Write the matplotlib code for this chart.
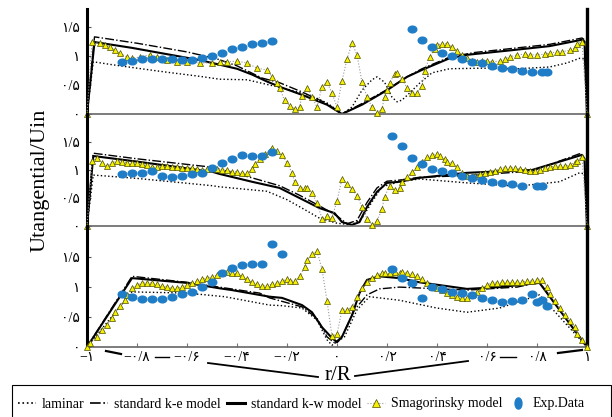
import numpy as np
import matplotlib
matplotlib.use("Agg")
import matplotlib.pyplot as plt
from matplotlib.lines import Line2D
from matplotlib.patches import Rectangle

plt.rcParams['font.family'] = ['Liberation Serif', 'DejaVu Sans']

# ---------------- data ----------------
x_ticks = [-1, -0.8, -0.6, -0.4, -0.2, 0, 0.2, 0.4, 0.6, 0.8, 1]
x_labels = ['−۱', '−۰/۸', '−۰/۶', '−۰/۴', '−۰/۲', '۰', '۰/۲', '۰/۴', '۰/۶', '۰/۸', '۱']
y_ticks = [0, 0.5, 1, 1.5]
y_labels = ['۰', '۰/۵', '۱', '۱/۵']
legend_labels = ['laminar', 'standard k-e model', 'standard k-w model', 'Smagorinsky model', 'Exp.Data']

# panel 1 (top)
lam1_r = [-1, -0.975, -0.9, -0.8, -0.68, -0.55, -0.47, -0.36, -0.27, -0.2, -0.14, -0.08, -0.04, 0.0, 0.02,
          0.06, 0.1, 0.14, 0.16, 0.19, 0.22, 0.24, 0.26, 0.29, 0.33, 0.38, 0.45, 0.58, 0.72, 0.85, 0.92, 0.97, 0.99, 1]
lam1_u = [0, 0.9, 0.85, 0.79, 0.72, 0.65, 0.6, 0.59, 0.5, 0.43, 0.36, 0.27, 0.19, 0.07, 0.0,
          0.12, 0.41, 0.59, 0.64, 0.55, 0.29, 0.21, 0.24, 0.36, 0.53, 0.71, 0.78, 0.79, 0.78, 0.81, 0.88, 0.96, 0.95, 0]
ke1_r = [-1, -0.97, -0.8, -0.6, -0.48, -0.4, -0.3, -0.23, -0.14, -0.04, 0.02, 0.10, 0.20, 0.28, 0.34, 0.45, 0.55,
         0.7, 0.85, 0.98, 0.99, 1]
ke1_u = [0, 1.33, 1.22, 1.07, 0.95, 0.83, 0.62, 0.54, 0.38, 0.18, 0.0, 0.18, 0.42, 0.64, 0.78, 0.98, 1.06,
         1.13, 1.2, 1.31, 1.28, 0]
kw1_r = [-1, -0.97, -0.82, -0.55, -0.47, -0.40, -0.34, -0.28, -0.23, -0.14, -0.04, 0.02, 0.10, 0.20, 0.28, 0.34,
         0.45, 0.52, 0.7, 0.85, 0.98, 0.99, 1]
kw1_u = [0, 1.24, 1.14, 0.93, 0.85, 0.78, 0.68, 0.56, 0.47, 0.33, 0.16, 0.0, 0.16, 0.41, 0.64, 0.76,
         0.96, 1.02, 1.10, 1.17, 1.28, 1.25, 0]
sm1_r = [-1, -0.98, -0.95, -0.93, -0.91, -0.89, -0.87, -0.84, -0.82, -0.79, -0.75, -0.72, -0.68, -0.64, -0.6,
         -0.55, -0.5, -0.47, -0.44, -0.4, -0.36, -0.32, -0.28, -0.26, -0.24, -0.23, -0.21, -0.19, -0.17, -0.15,
         -0.14, -0.12, -0.10, -0.08, -0.06, -0.04, -0.02, 0.0, 0.02, 0.04, 0.06, 0.08, 0.10, 0.12, 0.14, 0.16,
         0.18, 0.19, 0.2, 0.21, 0.23, 0.24, 0.26, 0.28, 0.30, 0.32, 0.34, 0.35, 0.37, 0.39, 0.40, 0.42, 0.44,
         0.46, 0.48, 0.5, 0.52, 0.54, 0.56, 0.58, 0.6, 0.62, 0.65, 0.67, 0.69, 0.72, 0.75, 0.77, 0.8, 0.83,
         0.85, 0.88, 0.9, 0.93, 0.95, 0.96, 0.98, 1.0]
sm1_u = [0, 1.24, 1.22, 1.19, 1.16, 1.1, 1.05, 0.98, 0.96, 0.98, 1.02, 0.98, 0.93, 0.9, 0.9,
         0.88, 0.88, 0.89, 0.9, 0.91, 0.88, 0.79, 0.76, 0.64, 0.53, 0.45, 0.24, 0.14, 0.09, 0.12,
         0.31, 0.45, 0.29, 0.12, 0.47, 0.55, 0.36, 0.12, 0.57, 0.95, 1.22, 1.02, 0.55, 0.29, 0.12, 0.02,
         0.09, 0.29, 0.41, 0.53, 0.69, 0.71, 0.6, 0.45, 0.36, 0.36, 0.48, 0.74, 0.98, 1.12, 1.19, 1.21, 1.21,
         1.16, 1.09, 1.02, 0.97, 0.92, 0.9, 0.91, 0.91, 0.9, 0.91, 0.95, 0.98, 1.02, 1.03, 1.02, 1.02, 1.03,
         1.05, 1.07, 1.07, 1.1, 1.14, 1.21, 1.24, 0]
ex1_r = [-0.86, -0.82, -0.78, -0.74, -0.7, -0.66, -0.62, -0.58, -0.54, -0.5, -0.46, -0.42, -0.38, -0.34, -0.3, -0.26,
         0.30, 0.34, 0.38, 0.42, 0.46, 0.5, 0.54, 0.58, 0.62, 0.66, 0.70, 0.74, 0.78, 0.82, 0.84]
ex1_u = [0.9, 0.91, 0.95, 0.95, 0.95, 0.95, 0.93, 0.93, 0.97, 1.0, 1.05, 1.12, 1.16, 1.21, 1.22, 1.26,
         1.46, 1.28, 1.16, 1.05, 1.0, 0.95, 0.9, 0.88, 0.83, 0.79, 0.78, 0.74, 0.72, 0.72, 0.72]

# panel 2 (middle)
lam2_r = [-1, -0.975, -0.8, -0.5, -0.47, -0.28, -0.2, -0.14, -0.07, 0.0, 0.06, 0.10, 0.14, 0.18, 0.25, 0.33,
          0.52, 0.72, 0.89, 0.97, 0.99, 1]
lam2_u = [0, 0.91, 0.85, 0.72, 0.7, 0.62, 0.47, 0.32, 0.14, 0.05, 0.02, 0.14, 0.43, 0.7, 0.79, 0.84,
          0.77, 0.71, 0.79, 0.95, 0.93, 0]
ke2_r = [-1, -0.975, -0.8, -0.5, -0.34, -0.23, -0.15, -0.07, 0.0, 0.04, 0.08, 0.12, 0.16, 0.2, 0.25, 0.33,
         0.52, 0.78, 0.97, 0.99, 1]
ke2_u = [0, 1.3, 1.2, 1.05, 0.86, 0.72, 0.55, 0.36, 0.18, 0.04, 0.1, 0.42, 0.68, 0.8, 0.82, 0.87,
         0.9, 0.98, 1.29, 1.2, 0]
kw2_r = [-1, -0.975, -0.8, -0.5, -0.47, -0.34, -0.23, -0.15, -0.07, -0.01, 0.02, 0.06, 0.09, 0.12, 0.16, 0.2,
         0.25, 0.33, 0.52, 0.78, 0.98, 0.99, 1]
kw2_u = [0, 1.25, 1.15, 0.97, 0.93, 0.79, 0.68, 0.5, 0.32, 0.23, 0.07, 0.02, 0.07, 0.34, 0.61, 0.77,
         0.79, 0.86, 0.95, 1.0, 1.27, 1.2, 0]
sm2_r = [-1, -0.98, -0.96, -0.94, -0.92, -0.9, -0.88, -0.86, -0.84, -0.82, -0.8, -0.78, -0.76, -0.74, -0.72,
         -0.7, -0.68, -0.66, -0.64, -0.62, -0.6, -0.58, -0.56, -0.54, -0.52, -0.5, -0.48, -0.46, -0.44, -0.42,
         -0.40, -0.38, -0.36, -0.34, -0.33, -0.31, -0.29, -0.27, -0.26, -0.24, -0.22, -0.2, -0.18, -0.17,
         -0.15, -0.13, -0.12, -0.10, -0.08, -0.06, -0.04, -0.02, 0.0, 0.02, 0.04, 0.06, 0.08, 0.10, 0.12,
         0.14, 0.16, 0.18, 0.19, 0.21, 0.23, 0.25, 0.26, 0.28, 0.30, 0.32, 0.34, 0.36, 0.38, 0.40, 0.41,
         0.43, 0.44, 0.46, 0.48, 0.5, 0.52, 0.54, 0.55, 0.57, 0.59, 0.61, 0.63, 0.65, 0.67, 0.69, 0.71,
         0.73, 0.75, 0.77, 0.79, 0.81, 0.83, 0.85, 0.87, 0.89, 0.91, 0.93, 0.95, 0.96, 0.98, 1.0]
sm2_u = [0, 1.16, 1.21, 1.13, 1.07, 1.13, 1.16, 1.14, 1.13, 1.13, 1.13, 1.1, 1.09, 1.05, 1.05,
         1.07, 1.07, 1.05, 1.05, 1.04, 1.04, 1.03, 1.02, 1.0, 1.02, 1.03, 1.02, 1.0, 1.0, 0.97,
         0.97, 0.94, 0.94, 1.02, 1.1, 1.2, 1.28, 1.34, 1.39, 1.34, 1.27, 1.13, 0.95, 0.79,
         0.68, 0.68, 0.68, 0.59, 0.41, 0.13, 0.17, 0.15, 0.45, 0.84, 0.75, 0.66, 0.54, 0.34, 0.13,
         0.02, 0.09, 0.3, 0.52, 0.71, 0.64, 0.68, 0.79, 0.88, 0.96, 1.05, 1.14, 1.23, 1.27, 1.29, 1.25,
         1.2, 1.14, 1.13, 1.05, 0.95, 0.89, 0.88, 0.89, 0.93, 0.95, 0.96, 0.98, 1.02, 1.04, 1.04, 1.04,
         1.02, 1.0, 0.98, 0.98, 1.0, 1.04, 1.05, 1.07, 1.07, 1.07, 1.09, 1.13, 1.16, 1.23, 0]
ex2_r = [-0.86, -0.82, -0.78, -0.74, -0.7, -0.66, -0.62, -0.58, -0.54, -0.5, -0.46, -0.42, -0.38, -0.34, -0.3, -0.26,
         0.22, 0.26, 0.30, 0.34, 0.38, 0.42, 0.46, 0.5, 0.54, 0.58, 0.62, 0.66, 0.70, 0.74, 0.8, 0.82]
ex2_u = [0.93, 0.95, 0.95, 0.98, 0.89, 0.88, 0.89, 0.93, 0.95, 1.04, 1.13, 1.2, 1.27, 1.25, 1.25, 1.32,
         1.61, 1.43, 1.21, 1.11, 1.02, 0.98, 0.95, 0.89, 0.86, 0.82, 0.79, 0.77, 0.75, 0.71, 0.71, 0.71]

# panel 3 (bottom)
lam3_r = [-1, -0.82, -0.6, -0.45, -0.27, -0.22, -0.14, -0.08, -0.04, -0.02, 0.03, 0.08, 0.13, 0.25, 0.4,
          0.52, 0.65, 0.81, 1]
lam3_u = [0, 0.92, 0.9, 0.84, 0.7, 0.69, 0.65, 0.45, 0.12, 0.03, 0.17, 0.62, 0.84, 0.78, 0.65,
          0.58, 0.65, 0.87, 0]
ke3_r = [-1, -0.82, -0.6, -0.31, -0.27, -0.14, -0.08, -0.04, -0.01, 0.02, 0.07, 0.12, 0.17, 0.25, 0.52,
         0.72, 0.81, 1]
ke3_u = [0, 1.18, 1.08, 0.9, 0.82, 0.67, 0.48, 0.17, 0.07, 0.17, 0.62, 0.87, 0.97, 1.0, 0.95,
         1.0, 1.08, 0]
kw3_r = [-1, -0.82, -0.6, -0.47, -0.42, -0.27, -0.22, -0.14, -0.10, -0.06, -0.02, 0.0, 0.02, 0.06, 0.09,
         0.12, 0.17, 0.25, 0.33, 0.52, 0.65, 0.81, 1]
kw3_u = [0, 1.15, 1.07, 0.98, 0.95, 0.84, 0.82, 0.7, 0.58, 0.33, 0.15, 0.08, 0.17, 0.53, 0.9,
         1.12, 1.18, 1.15, 1.08, 0.97, 1.0, 1.07, 0]
sm3_r = [-1, -0.99, -0.96, -0.94, -0.92, -0.9, -0.89, -0.87, -0.85, -0.84, -0.82, -0.8, -0.78, -0.76, -0.74,
         -0.72, -0.7, -0.68, -0.66, -0.64, -0.62, -0.6, -0.58, -0.56, -0.54, -0.52, -0.5, -0.48, -0.46,
         -0.44, -0.42, -0.40, -0.38, -0.36, -0.34, -0.32, -0.3, -0.28, -0.26, -0.24, -0.22, -0.2, -0.19,
         -0.17, -0.15, -0.13, -0.12, -0.10, -0.08, -0.06, -0.04, -0.02, 0.0, 0.02, 0.04, 0.06, 0.08, 0.1,
         0.12, 0.14, 0.16, 0.18, 0.19, 0.21, 0.23, 0.25, 0.26, 0.28, 0.30, 0.32, 0.34, 0.36, 0.38, 0.40,
         0.42, 0.44, 0.46, 0.48, 0.5, 0.52, 0.54, 0.56, 0.58, 0.6, 0.62, 0.64, 0.66, 0.68, 0.7, 0.72, 0.74,
         0.76, 0.78, 0.8, 0.82, 0.84, 0.85, 0.87, 0.89, 0.91, 0.93, 0.95, 0.96, 0.98, 1.0]
sm3_u = [0, 0.07, 0.17, 0.28, 0.37, 0.48, 0.58, 0.68, 0.78, 0.87, 0.98, 1.03, 1.07, 1.07, 1.07,
         1.05, 1.02, 1.0, 0.98, 0.98, 1.0, 1.03, 1.07, 1.1, 1.13, 1.15, 1.17, 1.2, 1.23,
         1.25, 1.23, 1.23, 1.18, 1.13, 1.08, 1.05, 1.02, 1.02, 1.05, 1.07, 1.1, 1.13, 1.1,
         1.1, 1.18, 1.33, 1.45, 1.55, 1.6, 1.3, 0.77, 0.18, 0.22, 0.62, 0.62, 0.67, 0.84, 0.98,
         1.08, 1.15, 1.2, 1.23, 1.23, 1.23, 1.25, 1.23, 1.25, 1.23, 1.22, 1.18, 1.13, 1.07, 1.0, 0.98,
         0.95, 0.9, 0.87, 0.84, 0.82, 0.82, 0.87, 0.92, 0.98, 1.03, 1.07, 1.07, 1.08, 1.08, 1.08, 1.08, 1.08,
         1.1, 1.1, 1.12, 1.12, 1.0, 0.88, 0.77, 0.65, 0.53, 0.43, 0.33, 0.22, 0.12, 0.0]
ex3_r = [-0.86, -0.82, -0.78, -0.74, -0.7, -0.66, -0.62, -0.58, -0.54, -0.5, -0.46, -0.42, -0.38, -0.34, -0.3,
         -0.26, -0.22, 0.22, 0.26, 0.30, 0.34, 0.38, 0.42, 0.46, 0.5, 0.54, 0.58, 0.62, 0.66, 0.7, 0.74, 0.78,
         0.8, 0.82, 0.84]
ex3_u = [0.88, 0.83, 0.8, 0.8, 0.8, 0.83, 0.88, 0.92, 1.0, 1.08, 1.23, 1.32, 1.37, 1.38, 1.38,
         1.72, 1.55, 1.3, 1.15, 1.07, 0.82, 1.0, 0.97, 0.92, 0.9, 0.87, 0.82, 0.78, 0.75, 0.77, 0.78, 0.88,
         0.75, 0.78, 0.68]

panels = [
    (lam1_r, lam1_u, ke1_r, ke1_u, kw1_r, kw1_u, sm1_r, sm1_u, ex1_r, ex1_u),
    (lam2_r, lam2_u, ke2_r, ke2_u, kw2_r, kw2_u, sm2_r, sm2_u, ex2_r, ex2_u),
    (lam3_r, lam3_u, ke3_r, ke3_u, kw3_r, kw3_u, sm3_r, sm3_u, ex3_r, ex3_u),
]

# ---------------- style ----------------
W, H = 612, 417
BLUE = '#1f7cc6'
YELLOW = '#f4f000'
t = np.linspace(0, 2 * np.pi, 40)
ellipse_h = np.column_stack([np.cos(t), 0.78 * np.sin(t)])
ellipse_v = np.column_stack([0.62 * np.cos(t), np.sin(t)])

# axes boxes in pixels: (top, bottom), y limit top
boxes = [(9, 114, 1.81), (114, 226, 2.0), (226, 347, 2.02)]
left_px, right_px = 87, 587

fig = plt.figure(figsize=(W / 100, H / 100), dpi=100)
for i, (top, bot, ytop) in enumerate(boxes):
    ax = fig.add_axes([left_px / W, 1 - bot / H, (right_px - left_px) / W, (bot - top) / H])
    lam_r, lam_u, ke_r, ke_u, kw_r, kw_u, sm_r, sm_u, ex_r, ex_u = panels[i]
    ax.plot(lam_r, lam_u, ':', color='black', lw=1.0)
    ax.plot(ke_r, ke_u, '-.', color='black', lw=1.0)
    ax.plot(kw_r, kw_u, '-', color='black', lw=1.5)
    ax.plot(sm_r, sm_u, ':', color='#9a9a9a', lw=0.8, marker='^', ms=4.8, mfc=YELLOW,
            mec='#4d4d00', mew=0.5, clip_on=False, zorder=3)
    ax.plot(ex_r, ex_u, ls='none', marker=ellipse_h, ms=6.2, color=BLUE, clip_on=False, zorder=4)
    ax.set_xlim(-1, 1)
    ax.set_ylim(0, ytop)
    ax.spines['top'].set_visible(False)
    ax.spines['left'].set_linewidth(2.2)
    ax.spines['right'].set_linewidth(2.4)
    ax.spines['bottom'].set_linewidth(1.2)
    ax.spines['bottom'].set_color('#666666')
    ax.set_yticks(y_ticks)
    ax.set_yticklabels(y_labels)
    ax.tick_params(axis='y', direction='in', length=3, width=0.8, color='#555555', labelsize=10, pad=5)
    ax.patch.set_alpha(0)
    if i < 2:
        ax.set_xticks([])
    else:
        ax.set_xticks(x_ticks)
        ax.set_xticklabels(x_labels)
        ax.tick_params(axis='x', direction='in', length=3, width=0.8, color='#777777', labelsize=10, pad=3)

fig.text(0.065, 0.568, 'Utangential/Uin', rotation=90, ha='center', va='center', fontsize=16)
fig.text(338 / W, 1 - 375 / H, 'r/R', ha='center', va='center', fontsize=15)

# stray rule lines under the axis of the original figure
for (x0, y0, x1, y1, lw) in [(106, 351, 121, 354, 1.6), (155, 357, 169, 357, 1.0), (208, 363, 318, 377, 1.3),
                             (355, 376, 468, 361, 1.3), (500, 357, 516, 357, 1.0), (558, 353, 582, 350, 1.6)]:
    fig.add_artist(Line2D([x0 / W, x1 / W], [1 - y0 / H, 1 - y1 / H], transform=fig.transFigure,
                          color='black', lw=lw))

handles = [
    Line2D([], [], ls=':', color='black', lw=1.2),
    Line2D([], [], ls='-.', color='black', lw=1.2),
    Line2D([], [], ls='-', color='black', lw=2.2),
    Line2D([], [], ls=':', color='#9a9a9a', lw=0.8, marker='^', ms=6, mfc=YELLOW, mec='#4d4d00', mew=0.5),
    Line2D([], [], ls='none', marker=ellipse_v, ms=8, color=BLUE),
]
fig.legend(handles, legend_labels, loc='center left', bbox_to_anchor=(0.02, 1 - 404 / H), ncol=5,
           frameon=False, handlelength=1.3, handletextpad=0.4, columnspacing=0.45, fontsize=10.0,
           borderaxespad=0)
fig.add_artist(Rectangle((12 / W, -0.1), (611 - 12) / W, 0.1 + (1 - 385 / H), transform=fig.transFigure,
                         fill=False, ec='black', lw=0.8))

fig.savefig('out.png', dpi=100)
